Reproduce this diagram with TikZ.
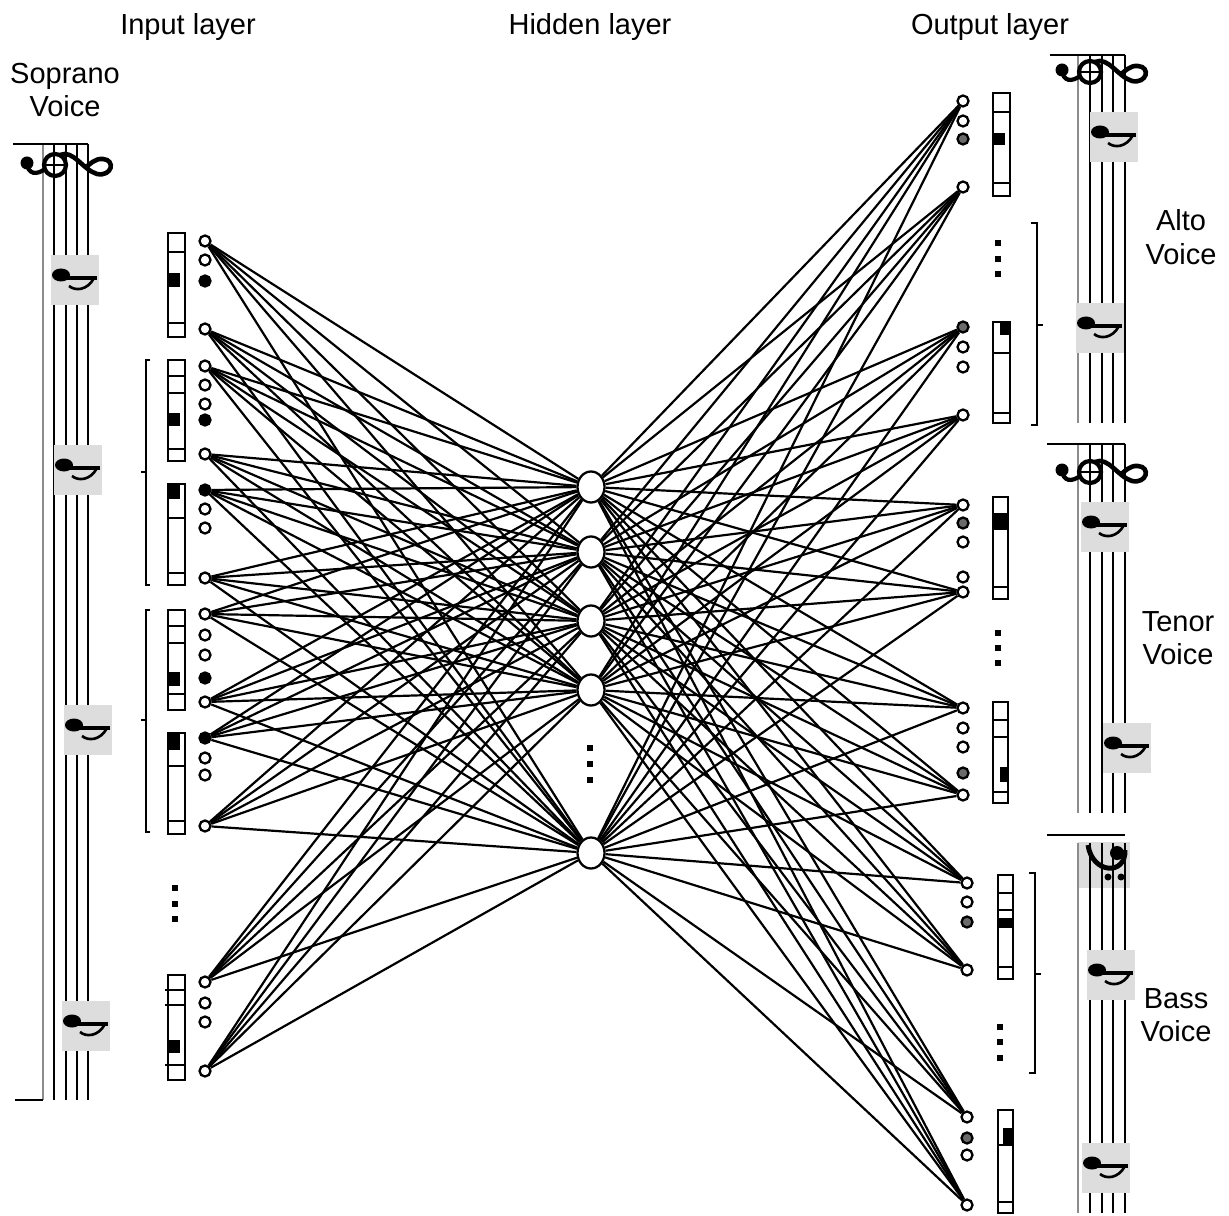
\documentclass[tikz,border=0pt]{standalone}
\usepackage{fontspec}
\setmainfont{Liberation Sans}
\usepackage{tikz}
\usetikzlibrary{positioning,backgrounds,shapes.geometric}
\definecolor{grisNota}{HTML}{DDDDDD}
\definecolor{grisNeurona}{HTML}{6A6A6A}
\definecolor{grisLinea}{HTML}{8C8C8C}

\begin{document}
\begin{tikzpicture}[x=0.2mm,y=-0.2mm,
    neurona/.style={draw,circle,line width=1.3pt,fill=white,inner sep=0pt,minimum size=2.2mm},
    activa/.style={neurona,fill=black},
    tenue/.style={neurona,fill=grisNeurona},
    oculta/.style={draw,ellipse,line width=1.3pt,fill=white,inner sep=0pt,
                   minimum width=5.4mm,minimum height=6.2mm},
    punto/.style={fill=black,inner sep=0pt,minimum size=1.1mm},
    conexion/.style={line width=1.25pt},
    barra/.style={line width=1.4pt},
    linea/.style={line width=1.3pt},
    etiqueta/.style={font=\fontsize{16.5}{19}\selectfont,align=center},
    nota/.pic={
      \fill[grisNota] (-24,-25) rectangle (24,25);
      \fill (-14,-5) ellipse [x radius=9,y radius=6.5];
      \draw[line width=1.8pt] (-8,-2) -- (22,-2);
      \draw[line width=1.5pt] (19,-2) .. controls (12,11) and (0,11) .. (-6,6);
    },
    clave/.pic={
      \draw[line width=2.4pt] (0,0) circle (11);
      \draw[line width=1pt] (-12,0) -- (12,0);
      \fill (-28,-2) circle (6.5);
      \draw[line width=2.4pt] (-28,-2) .. controls (-27,10) and (-18,10) .. (-10,4);
      \draw[line width=2.6pt] (5,-10) .. controls (18,-16) and (28,5) .. (42,9)
        .. controls (57,12) and (61,-5) .. (48,-6) .. controls (40,-7) and (34,0) .. (30,3);
    }]
  \useasboundingbox (0,0) rectangle (1229,1216);

  \node[etiqueta,anchor=base] (tEntrada) at (188,35) {Input layer};
  \node[etiqueta,anchor=base] (tOculta) at (590,35) {Hidden layer};
  \node[etiqueta,anchor=base] (tSalida) at (990,35) {Output layer};
  \node[etiqueta] (tSoprano) at (65,90) {Soprano\\Voice};
  \node[etiqueta] (tAlto) at (1181,237) {Alto\\Voice};
  \node[etiqueta] (tTenor) at (1178,638) {Tenor\\Voice};
  \node[etiqueta] (tBajo) at (1176,1015) {Bass\\Voice};

  \foreach \x in {54,66,77,88} \draw[linea] (\x,144) -- (\x,1100);
  \draw[linea,grisLinea] (43,144) -- (43,1100);
  \draw[linea] (13,144) -- (88,144);
  \draw[linea] (15,1100) -- (43,1100);
  \foreach \x in {1090,1102,1113,1125} \draw[linea] (\x,55) -- (\x,423);
  \draw[linea,grisLinea] (1078,55) -- (1078,423);
  \draw[linea] (1050,55) -- (1125,55);
  \foreach \x in {1090,1102,1113,1125} \draw[linea] (\x,444) -- (\x,813);
  \draw[linea,grisLinea] (1078,444) -- (1078,813);
  \draw[linea] (1047,444) -- (1125,444);
  \fill[grisNota] (1078,842) rectangle (1130,888);
  \foreach \x in {1090,1102,1113,1125} \draw[linea] (\x,843) -- (\x,1213);
  \draw[linea,grisLinea] (1078,843) -- (1078,1213);
  \draw[linea] (1047,835) -- (1125,835);

  \pic at (55,165) {clave};
  \pic at (1090,72) {clave};
  \pic at (1090,472) {clave};
  \draw[line width=2.8pt] (1088,845) .. controls (1092,874) and (1126,876) .. (1125,850);
  \fill (1117,853) circle (7);
  \fill (1108,877) circle (3.5) (1121,877) circle (3.5);

  \foreach \x/\y in {75/280,78/470,88/730,86/1026,1114/137,1100/328,1105/527,1127/748,1111/975,1106/1168}
    \pic at (\x,\y) {nota};

  \draw[barra] (168,233) rectangle (185,337) (168,252) -- (185,252) (168,323) -- (185,323);
  \fill (168,273) rectangle (180,287);
  \draw[barra] (168,360) rectangle (185,461) (168,376) -- (185,376) (168,393) -- (185,393) (168,449) -- (185,449);
  \fill (168,413) rectangle (180,426);
  \draw[barra] (168,484) rectangle (185,585) (168,518) -- (185,518) (168,573) -- (185,573);
  \fill (168,484) rectangle (180,499);
  \draw[barra] (168,610) rectangle (185,710) (168,626) -- (185,626) (168,643) -- (185,643) (168,694) -- (185,694);
  \fill (168,672) rectangle (180,686);
  \draw[barra] (168,733) rectangle (185,834) (168,766) -- (185,766) (168,821) -- (185,821);
  \fill (168,733) rectangle (180,750);
  \draw[barra] (168,975) rectangle (185,1080) (165,990) -- (185,990) (165,1005) -- (185,1005) (165,1065) -- (185,1065);
  \fill (168,1040) rectangle (180,1053);

  \draw[barra] (993,93) rectangle (1010,196) (993,112) -- (1010,112) (993,183) -- (1010,183);
  \fill (993,133) rectangle (1005,145);
  \draw[barra] (993,322) rectangle (1010,423) (993,353) -- (1010,353) (993,413) -- (1010,413);
  \fill (1000,322) rectangle (1010,335);
  \draw[barra] (993,497) rectangle (1008,599) (993,587) -- (1008,587);
  \fill (993,513) rectangle (1008,530);
  \draw[barra] (993,702) rectangle (1008,803) (993,720) -- (1008,720) (993,737) -- (1008,737) (993,792) -- (1008,792);
  \fill (1000,767) rectangle (1008,782);
  \draw[barra] (998,875) rectangle (1013,979) (998,893) -- (1013,893) (998,910) -- (1013,910) (998,967) -- (1013,967);
  \fill (998,918) rectangle (1013,928);
  \draw[barra] (998,1110) rectangle (1013,1213) (998,1145) -- (1013,1145) (998,1202) -- (1013,1202);
  \fill (1003,1128) rectangle (1013,1145);

  \draw[linea] (150,360) -- (146,360) -- (146,585) -- (150,585) (146,472) -- (141,472);
  \draw[linea] (150,610) -- (146,610) -- (146,832) -- (150,832) (146,720) -- (141,720);
  \draw[linea] (1031,223) -- (1037,223) -- (1037,425) -- (1031,425) (1037,325) -- (1043,325);
  \draw[linea] (1029,873) -- (1035,873) -- (1035,1073) -- (1029,1073) (1035,974) -- (1041,974);

  \foreach \y/\s [count=\i] in {241/neurona,329/neurona,366/neurona,454/neurona,490/activa,578/neurona,
      614/neurona,702/neurona,738/activa,826/neurona,982/neurona,1071/neurona}
    \node[\s] (e\i) at (205,\y) {};
  \foreach \y/\s [count=\k] in {260/neurona,281/activa,385/neurona,404/neurona,420/activa,509/neurona,
      528/neurona,635/neurona,655/neurona,678/activa,758/neurona,775/neurona,1003/neurona,1022/neurona}
    \node[\s] (ee\k) at (205,\y) {};

  \foreach \y [count=\j] in {487,552,621,690,853}
    \node[oculta] (h\j) at (591,\y) {};

  \foreach \x/\y/\s [count=\i] in {963/101/neurona,963/187/neurona,963/327/tenue,963/415/neurona,
      963/505/neurona,963/592/neurona,963/708/neurona,963/795/neurona,967/883/neurona,967/970/neurona,
      967/1117/neurona,967/1205/neurona}
    \node[\s] (s\i) at (\x,\y) {};
  \foreach \x/\y/\s [count=\k] in {963/121/neurona,963/139/tenue,963/347/neurona,963/367/neurona,
      963/523/tenue,963/542/neurona,963/577/neurona,963/728/neurona,963/747/neurona,963/773/tenue,
      967/902/neurona,967/922/tenue,967/1138/tenue,967/1155/neurona}
    \node[\s] (ss\k) at (\x,\y) {};

  \foreach \x/\y [count=\k] in {175/888,175/904,175/919,590/748,590/764,590/780,998/243,998/259,998/274,
      998/633,998/648,998/663,1000/1027,1000/1042,1000/1058}
    \node[punto] (p\k) at (\x,\y) {};

  \begin{scope}[on background layer]
    \foreach \i in {1,...,12}{
      \foreach \j in {1,...,5}{
        \draw[conexion] (e\i) -- (h\j);
        \draw[conexion] (h\j) -- (s\i);
      }
    }
  \end{scope}
\end{tikzpicture}
\end{document}
